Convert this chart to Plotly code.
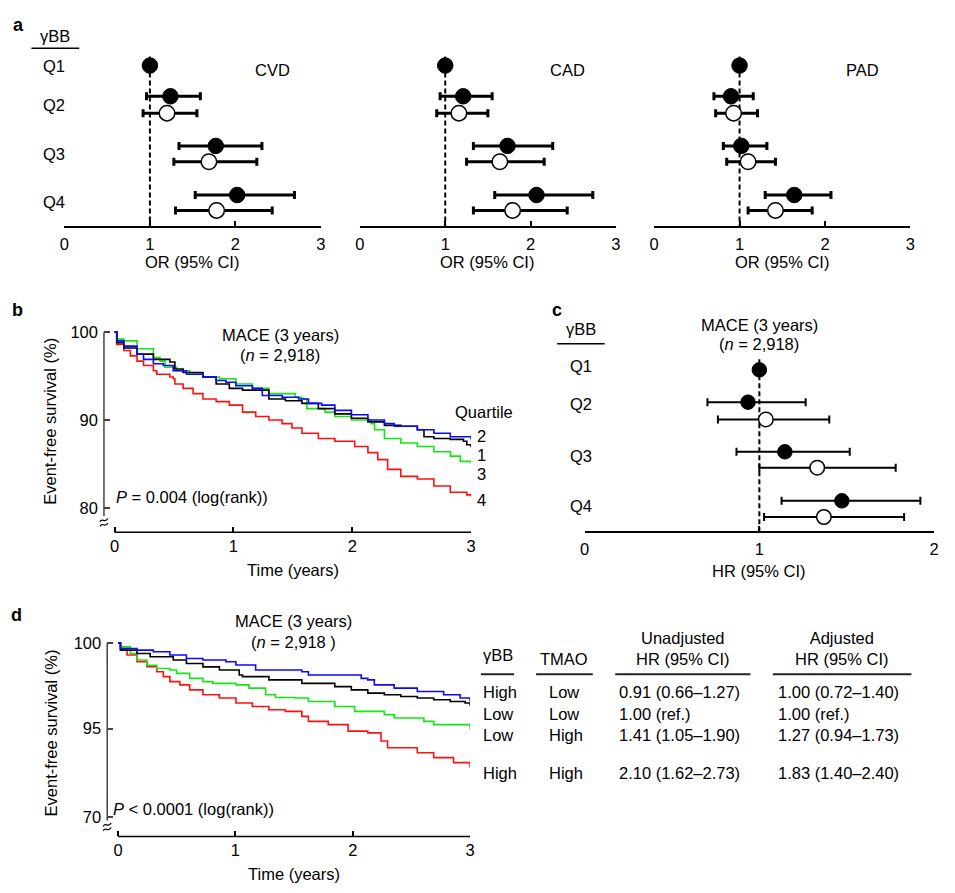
import plotly.graph_objects as go

# ---------------- DATA ----------------
QUARTILES = ["Q1", "Q2", "Q3", "Q4"]
OR_TICKS = [0, 1, 2, 3]
HR_TICKS = [0, 1, 2]
TIME_TICKS = [0, 1, 2, 3]

# Panel a: odds ratios (filled = Q1..Q4, open = Q2..Q4)
CVD_FILLED = [1.00, 1.24, 1.77, 2.02]
CVD_FILLED_LO = [1.00, 0.96, 1.34, 1.53]
CVD_FILLED_HI = [1.00, 1.59, 2.31, 2.69]
CVD_OPEN = [1.20, 1.69, 1.78]
CVD_OPEN_LO = [0.92, 1.28, 1.30]
CVD_OPEN_HI = [1.55, 2.25, 2.43]

CAD_FILLED = [1.00, 1.21, 1.73, 2.07]
CAD_FILLED_LO = [1.00, 0.94, 1.33, 1.58]
CAD_FILLED_HI = [1.00, 1.55, 2.26, 2.73]
CAD_OPEN = [1.16, 1.64, 1.79]
CAD_OPEN_LO = [0.90, 1.25, 1.33]
CAD_OPEN_HI = [1.50, 2.16, 2.43]

PAD_FILLED = [1.00, 0.90, 1.02, 1.64]
PAD_FILLED_LO = [1.00, 0.70, 0.81, 1.30]
PAD_FILLED_HI = [1.00, 1.16, 1.32, 2.07]
PAD_OPEN = [0.93, 1.10, 1.42]
PAD_OPEN_LO = [0.72, 0.85, 1.10]
PAD_OPEN_HI = [1.21, 1.42, 1.85]

# Panel c: hazard ratios
HR_FILLED = [1.00, 0.935, 1.146, 1.472]
HR_FILLED_LO = [1.00, 0.703, 0.869, 1.127]
HR_FILLED_HI = [1.00, 1.265, 1.517, 1.921]
HR_OPEN = [1.037, 1.331, 1.369]
HR_OPEN_LO = [0.763, 1.00, 1.027]
HR_OPEN_HI = [1.40, 1.78, 1.828]

# Panel b: Kaplan-Meier by quartile
B_Q1_T = [0, 0.022, 0.078, 0.189, 0.327, 0.438, 0.466, 0.508, 0.577, 0.744, 0.855, 0.966, 1.077, 1.188, 1.299, 1.438, 1.577, 1.715, 1.854, 1.993, 2.132, 2.271, 2.409, 2.548, 2.604, 2.687, 2.825, 2.936, 2.964, 3.0]
B_Q1_S = [100, 98.8, 98.2, 97.5, 96.9, 96.9, 96.6, 95.8, 95.4, 94.9, 94.1, 93.6, 93.4, 93.4, 92.4, 92.2, 91.9, 91.3, 90.7, 90.2, 89.8, 89.4, 89.3, 88.9, 88.1, 87.9, 87.8, 87.6, 87.2, 86.9]
B_Q2_T = [0, 0.022, 0.078, 0.189, 0.244, 0.327, 0.411, 0.494, 0.605, 0.744, 0.855, 0.938, 1.021, 1.160, 1.243, 1.410, 1.549, 1.632, 1.743, 1.854, 1.993, 2.132, 2.271, 2.354, 2.548, 2.687, 2.825, 3.0]
B_Q2_S = [100, 99.0, 98.4, 97.5, 96.9, 96.4, 96.2, 95.6, 95.2, 94.9, 94.5, 94.3, 93.9, 93.6, 92.8, 92.6, 92.4, 91.9, 91.7, 91.1, 90.6, 90.0, 89.6, 89.3, 88.9, 88.5, 88.1, 87.8]
B_Q3_T = [0, 0.022, 0.078, 0.189, 0.327, 0.383, 0.425, 0.522, 0.633, 0.744, 0.883, 1.021, 1.160, 1.299, 1.521, 1.577, 1.618, 1.771, 1.854, 1.993, 2.160, 2.188, 2.271, 2.409, 2.548, 2.687, 2.825, 2.909, 3.0]
B_Q3_S = [100, 99.2, 99.0, 98.1, 97.1, 96.7, 96.0, 95.6, 95.2, 94.9, 94.7, 94.1, 93.6, 93.0, 92.6, 92.4, 91.3, 90.9, 90.4, 90.0, 89.6, 88.9, 87.9, 87.4, 87.0, 86.4, 85.9, 85.3, 85.1]
B_Q4_T = [0, 0.017, 0.078, 0.133, 0.189, 0.244, 0.327, 0.355, 0.466, 0.494, 0.508, 0.577, 0.661, 0.744, 0.855, 0.966, 1.077, 1.188, 1.299, 1.410, 1.493, 1.577, 1.715, 1.854, 2.021, 2.132, 2.215, 2.298, 2.409, 2.548, 2.687, 2.825, 2.964, 3.0]
B_Q4_S = [100, 98.6, 97.9, 97.3, 96.7, 96.2, 95.6, 95.2, 94.9, 94.7, 94.1, 93.6, 93.0, 92.4, 92.1, 91.7, 90.9, 90.4, 90.0, 89.6, 89.1, 88.5, 87.9, 87.6, 87.0, 86.3, 85.5, 84.4, 83.6, 83.3, 82.5, 81.8, 81.5, 81.3]
B_END_LABELS = ["2", "1", "3", "4"]
B_Y_TICKS = [80, 90, 100]

# Panel d: Kaplan-Meier by gammaBB / TMAO group
D_HL_T = [0, 0.02, 0.16, 0.30, 0.441, 0.582, 0.723, 0.919, 1.004, 1.172, 1.566, 1.622, 2.072, 2.128, 2.184, 2.353, 2.55, 2.775, 2.915, 3.0]
D_HL_S = [100, 99.67, 99.58, 99.48, 99.29, 99.09, 99.0, 98.9, 98.71, 98.42, 98.32, 98.13, 97.93, 97.84, 97.55, 97.36, 97.16, 96.97, 96.78, 96.58]
D_LL_T = [0, 0.02, 0.16, 0.273, 0.47, 0.582, 0.723, 0.863, 1.032, 1.06, 1.285, 1.566, 1.847, 1.988, 2.128, 2.269, 2.409, 2.55, 2.69, 2.831, 2.958, 3.0]
D_LL_S = [100, 99.58, 99.38, 99.19, 99.0, 98.8, 98.6, 98.42, 98.13, 98.03, 97.84, 97.64, 97.45, 97.26, 97.07, 96.97, 96.87, 96.78, 96.68, 96.58, 96.49, 96.33]
D_LH_T = [0, 0.02, 0.104, 0.16, 0.245, 0.329, 0.441, 0.498, 0.61, 0.723, 0.807, 1.004, 1.116, 1.257, 1.341, 1.51, 1.622, 1.847, 2.016, 2.269, 2.353, 2.606, 2.69, 3.0]
D_LH_S = [100, 99.77, 99.38, 99.0, 98.7, 98.51, 98.42, 98.22, 97.93, 97.74, 97.64, 97.55, 97.36, 96.97, 96.81, 96.78, 96.58, 96.29, 96.0, 95.81, 95.62, 95.42, 95.23, 94.98]
D_HH_T = [0, 0.02, 0.076, 0.16, 0.245, 0.329, 0.385, 0.441, 0.526, 0.61, 0.723, 0.863, 1.004, 1.144, 1.285, 1.425, 1.566, 1.622, 1.791, 1.96, 2.128, 2.241, 2.297, 2.55, 2.69, 2.859, 3.0]
D_HH_S = [100, 99.58, 99.29, 98.9, 98.61, 98.32, 98.03, 97.74, 97.55, 97.26, 96.97, 96.78, 96.49, 96.29, 96.1, 96.0, 95.71, 95.42, 95.23, 94.85, 94.75, 94.27, 93.88, 93.59, 93.3, 93.01, 92.72]
D_Y_TICKTEXT = ["100", "95", "70"]

TABLE_HEAD = ["γBB", "TMAO", "Unadjusted<br>HR (95% CI)", "Adjusted<br>HR (95% CI)"]
TABLE_GBB = ["High", "Low", "Low", "High"]
TABLE_TMAO = ["Low", "Low", "High", "High"]
TABLE_UNADJ = ["0.91 (0.66–1.27)", "1.00 (ref.)", "1.41 (1.05–1.90)", "2.10 (1.62–2.73)"]
TABLE_ADJ = ["1.00 (0.72–1.40)", "1.00 (ref.)", "1.27 (0.94–1.73)", "1.83 (1.40–2.40)"]

# ---------------- LAYOUT HELPERS ----------------
W, H = 955, 893
FONT = "Liberation Sans, Arial, Helvetica, sans-serif"
FS = 16.5
BLUE, BLACK, GREEN, RED = "#0a0aff", "#000000", "#14e614", "#ff1010"


def px(x):
    return x / W


def py(y):
    return 1 - y / H


fig = go.Figure()
annotations = []
shapes = []


def ann(text, x, y, xanchor="center", size=FS, angle=0):
    annotations.append(dict(text=text, x=px(x), y=py(y), xref="paper", yref="paper",
                            xanchor=xanchor, yanchor="middle", showarrow=False,
                            textangle=angle, font=dict(family=FONT, size=size, color="black")))


def hline(x0, x1, y, width=1.5, color="black"):
    shapes.append(dict(type="line", xref="paper", yref="paper", x0=px(x0), x1=px(x1),
                       y0=py(y), y1=py(y), line=dict(color=color, width=width)))


def vline_px(x, y0, y1, width=1.5, color="black"):
    shapes.append(dict(type="line", xref="paper", yref="paper", x0=px(x), x1=px(x),
                       y0=py(y0), y1=py(y1), line=dict(color=color, width=width)))


def brk(x, y):
    # small axis-break squiggles
    for dy in (0, 4.5):
        p = (f"M{px(x-4)},{py(y+dy+2)} C{px(x-2)},{py(y+dy-3)} {px(x+1)},{py(y+dy+4)} "
             f"{px(x+4)},{py(y+dy-1.5)}")
        shapes.append(dict(type="path", xref="paper", yref="paper", path=p,
                           line=dict(color="black", width=1.2)))


def forest(xa, ya, filled, flo, fhi, opn, olo, ohi, fy, oy, size, thick):
    fig.add_trace(go.Scatter(
        x=filled, y=fy, mode="markers", xaxis=xa, yaxis=ya,
        marker=dict(size=size, color="black", line=dict(color="black", width=1)),
        error_x=dict(type="data", symmetric=False,
                     array=[h - v for h, v in zip(fhi, filled)],
                     arrayminus=[v - l for v, l in zip(filled, flo)],
                     color="black", thickness=thick, width=4),
        showlegend=False, hoverinfo="skip", cliponaxis=False))
    fig.add_trace(go.Scatter(
        x=opn, y=oy, mode="markers", xaxis=xa, yaxis=ya,
        marker=dict(size=size, color="white", line=dict(color="black", width=1.5)),
        error_x=dict(type="data", symmetric=False,
                     array=[h - v for h, v in zip(ohi, opn)],
                     arrayminus=[v - l for v, l in zip(opn, olo)],
                     color="black", thickness=thick, width=4),
        showlegend=False, hoverinfo="skip", cliponaxis=False))


def xaxis_cfg(dom, rng, ticks, anchor, showline=True):
    return dict(domain=[px(dom[0]), px(dom[1])], range=rng, anchor=anchor,
                showline=showline, linecolor="black", linewidth=1.5,
                ticks="inside", ticklen=5, tickwidth=1.5, tickcolor="black",
                tickvals=ticks, ticktext=[str(t) for t in ticks],
                showgrid=False, zeroline=False, fixedrange=True, ticklabelstandoff=2,
                tickfont=dict(family=FONT, size=FS, color="black"))


# ---------------- PANEL A ----------------
A_TOP, A_BOT = 41, 220.7
A_FILLED_Y = [59, 90, 140, 189.5]
A_OPEN_Y = [107, 156, 205]
A_LABEL_Y = [59, 98.5, 148, 197]
A_DOMS = [(60, 319.3), (358.7, 617.3), (656, 915)]
A_NAMES = ["CVD", "CAD", "PAD"]
A_NAME_X = [270, 568, 866.5]
A_DATA = [
    (CVD_FILLED, CVD_FILLED_LO, CVD_FILLED_HI, CVD_OPEN, CVD_OPEN_LO, CVD_OPEN_HI),
    (CAD_FILLED, CAD_FILLED_LO, CAD_FILLED_HI, CAD_OPEN, CAD_OPEN_LO, CAD_OPEN_HI),
    (PAD_FILLED, PAD_FILLED_LO, PAD_FILLED_HI, PAD_OPEN, PAD_OPEN_LO, PAD_OPEN_HI),
]
layout_axes = {}
for i, (dom, name, nx, dat) in enumerate(zip(A_DOMS, A_NAMES, A_NAME_X, A_DATA)):
    k = "" if i == 0 else str(i + 1)
    xa, ya = "x" + k, "y" + k
    layout_axes["xaxis" + k] = xaxis_cfg(dom, [0, 3], OR_TICKS, ya)
    layout_axes["yaxis" + k] = dict(domain=[py(A_BOT), py(A_TOP)], range=[A_BOT, A_TOP],
                                    visible=False, anchor=xa, fixedrange=True)
    shapes.append(dict(type="line", xref=xa, yref=ya, x0=1, x1=1, y0=50, y1=A_BOT,
                       layer="below", line=dict(color="black", width=2, dash="5px,3px")))
    forest(xa, ya, *dat, A_FILLED_Y, A_OPEN_Y, 15.5, 3)
    ann(name, nx, 63)
    ann("OR (95% CI)", (dom[0] + dom[1]) / 2 - 0.5, 257)

ann("<b>a</b>", 14, 18, size=18)
ann("γBB", 51, 29)
hline(26.7, 75, 41.7)
for q, yy in zip(QUARTILES, A_LABEL_Y):
    ann(q, 50, yy)

# ---------------- PANEL B ----------------
B_DOM_X = (100, 471)
B_TOP, B_BOT = 325, 529.3
layout_axes["xaxis4"] = xaxis_cfg(B_DOM_X, [-0.089, 3], TIME_TICKS, "y4", showline=False)
layout_axes["yaxis4"] = dict(domain=[py(B_BOT), py(B_TOP)], range=[77.26, 100.3], anchor="x4",
                             showline=False, ticks="inside", ticklen=6, tickwidth=1.5,
                             tickcolor="#444", tickvals=B_Y_TICKS,
                             ticktext=[str(t) for t in B_Y_TICKS], showgrid=False,
                             zeroline=False, fixedrange=True, ticklabelstandoff=5,
                             tickfont=dict(family=FONT, size=FS, color="black"))
for t, s, c in [(B_Q4_T, B_Q4_S, RED), (B_Q3_T, B_Q3_S, GREEN),
                (B_Q1_T, B_Q1_S, BLACK), (B_Q2_T, B_Q2_S, BLUE)]:
    fig.add_trace(go.Scatter(x=t, y=s, mode="lines", line=dict(color=c, width=1.6, shape="hv"),
                             xaxis="x4", yaxis="y4", showlegend=False, hoverinfo="skip"))
shapes.append(dict(type="line", xref="x4", yref="y4 domain", x0=0, x1=3, y0=0, y1=0,
                   line=dict(color="black", width=1.5)))
vline_px(100, 327.7, 513, color="#444")
brk(100, 517)
ann("<b>b</b>", 13, 305, size=18)
ann("Event-free survival (%)", 46, 417.5, angle=-90)
ann("MACE (3 years)", 278, 331)
ann("(<i>n</i> = 2,918)", 278, 351)
ann("<i>P</i> = 0.004 (log(rank))", 110, 494, xanchor="left")
ann("Time (years)", 291, 567)
ann("Quartile", 453, 408, xanchor="left")
for lab, yy in zip(B_END_LABELS, [432.3, 451.7, 471, 496.7]):
    ann(lab, 482, yy)

# ---------------- PANEL C ----------------
C_TOP, C_BOT = 340, 528.3
C_FILLED_Y = [365.7, 398.3, 448.3, 497.7]
C_OPEN_Y = [415.7, 464.3, 514]
C_LABEL_Y = [361.7, 400, 453, 503]
layout_axes["xaxis5"] = xaxis_cfg((585.7, 939), [0, 2], HR_TICKS, "y5")
layout_axes["yaxis5"] = dict(domain=[py(C_BOT), py(C_TOP)], range=[C_BOT, C_TOP],
                             visible=False, anchor="x5", fixedrange=True)
shapes.append(dict(type="line", xref="x5", yref="y5", x0=1, x1=1, y0=355, y1=C_BOT,
                   layer="below", line=dict(color="black", width=2, dash="5px,3px")))
forest("x5", "y5", HR_FILLED, HR_FILLED_LO, HR_FILLED_HI, HR_OPEN, HR_OPEN_LO, HR_OPEN_HI,
       C_FILLED_Y, C_OPEN_Y, 14.5, 2)
ann("<b>c</b>", 558, 305, size=18)
ann("γBB", 582, 325)
hline(558, 606, 339.3)
for q, yy in zip(QUARTILES, C_LABEL_Y):
    ann(q, 582, yy)
ann("MACE (3 years)", 762, 321)
ann("(<i>n</i> = 2,918)", 762, 340)
ann("HR (95% CI)", 762, 568)

# ---------------- PANEL D ----------------
D_TOP, D_BOT = 638, 836
D_BREAK_POS = 89.82
layout_axes["xaxis6"] = xaxis_cfg((103.3, 470), [-0.093, 3], TIME_TICKS, "y6", showline=False)
layout_axes["yaxis6"] = dict(domain=[py(D_BOT), py(D_TOP)], range=[88.70, 100.17], anchor="x6",
                             showline=False, ticks="inside", ticklen=6, tickwidth=1.5,
                             tickcolor="#444", tickvals=[100, 95, D_BREAK_POS],
                             ticktext=D_Y_TICKTEXT, showgrid=False, zeroline=False,
                             fixedrange=True, ticklabelstandoff=5,
                             tickfont=dict(family=FONT, size=FS, color="black"))
for t, s, c in [(D_HH_T, D_HH_S, RED), (D_LH_T, D_LH_S, GREEN),
                (D_LL_T, D_LL_S, BLACK), (D_HL_T, D_HL_S, BLUE)]:
    fig.add_trace(go.Scatter(x=t, y=s, mode="lines", line=dict(color=c, width=1.6, shape="hv"),
                             xaxis="x6", yaxis="y6", showlegend=False, hoverinfo="skip"))
shapes.append(dict(type="line", xref="x6", yref="y6 domain", x0=0, x1=3, y0=0, y1=0,
                   line=dict(color="black", width=1.5)))
vline_px(103.3, 641, 820, color="#444")
brk(103.3, 824)
ann("<b>d</b>", 12, 613, size=18)
ann("Event-free survival (%)", 46, 731.7, angle=-90)
ann("MACE (3 years)", 291.7, 619.3)
ann("(<i>n</i> = 2,918 )", 291.3, 640)
ann("<i>P</i> < 0.0001 (log(rank))", 107, 808, xanchor="left")
ann("Time (years)", 291.7, 874)

# table
ann(TABLE_HEAD[0], 481, 653, xanchor="left")
ann(TABLE_HEAD[1], 565, 657)
ann(TABLE_HEAD[2], 685, 646.5)
ann(TABLE_HEAD[3], 846, 646.5)
for x0, x1 in [(481, 514.5), (536.7, 594), (616.7, 753.3), (776, 916)]:
    hline(x0, x1, 672.5, width=2.2, color="#222")
ROW_Y = [690.7, 712.3, 733.3, 771.7]
for yy, g, tm, u, a in zip(ROW_Y, TABLE_GBB, TABLE_TMAO, TABLE_UNADJ, TABLE_ADJ):
    ann(g, 481, yy, xanchor="left")
    ann(tm, 548, yy, xanchor="left")
    ann(u, 618.5, yy, xanchor="left")
    ann(a, 779, yy, xanchor="left")

fig.update_layout(
    width=W, height=H, margin=dict(l=0, r=0, t=0, b=0),
    paper_bgcolor="white", plot_bgcolor="white",
    font=dict(family=FONT, size=FS, color="black"),
    showlegend=False, annotations=annotations, shapes=shapes,
    **layout_axes)

fig.write_html("out.html", config={"displayModeBar": False})
